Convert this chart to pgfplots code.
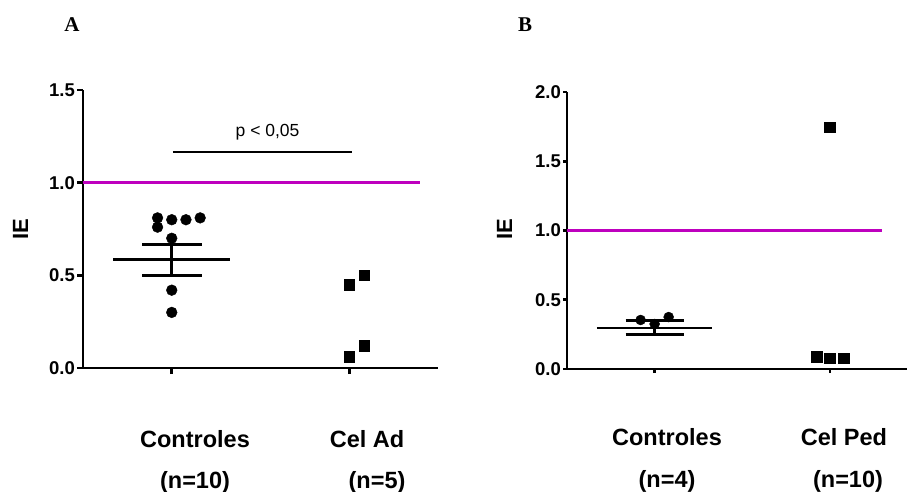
\documentclass[border=0pt]{standalone}
\usepackage{fontspec}
\setmainfont{Liberation Sans}
\newfontfamily\timesf{Liberation Serif}
\usepackage{pgfplots}
\pgfplotsset{compat=1.18}
\definecolor{mag}{RGB}{190,0,190}
\pgfplotsset{
  myax/.style={
    scale only axis,
    axis x line=bottom, axis y line=left,
    axis line style={-, line width=2.8bp, black},
    xtick={0,1}, xticklabels={},
    ytick distance=0.5,
    tick style={line width=2.8bp, black},
    major tick length=6bp, tick align=outside,
    clip=false,
    yticklabel style={font=\bfseries\fontsize{18.5bp}{20bp}\selectfont, inner xsep=2bp},
    /pgf/number format/.cd, fixed, fixed zerofill, precision=1, assume math mode=true,
  }
}
\begin{document}
\begin{tikzpicture}[x=1bp,y=1bp]
\useasboundingbox (0,0) rectangle (907,-492);
% Panel A
\begin{axis}[myax, at={(83bp,-368bp)}, anchor=south west,
  width=355bp, height=278bp, xmin=-0.5, xmax=1.5, ymin=0, ymax=1.5]
\addplot[mag, line width=2.8bp] coordinates {(-0.5,1) (1.4,1)};
\addplot[black, line width=2.8bp] coordinates {(0.006,1.166) (1.017,1.166)};
\node[font=\fontsize{17.5bp}{19bp}\selectfont] at (axis cs:0.54,1.27) {p < 0,05};
\addplot[black, line width=3bp] coordinates {(-0.33,0.583) (0.33,0.583)};
\addplot[black, line width=3bp] coordinates {(-0.165,0.664) (0.17,0.664)};
\addplot[black, line width=3bp] coordinates {(-0.165,0.497) (0.17,0.497)};
\addplot[black, line width=3bp] coordinates {(0,0.497) (0,0.664)};
\addplot[only marks, mark=*, mark size=5.4bp, black] coordinates {
(-0.08,0.81) (-0.08,0.76) (0,0.80) (0.08,0.80) (0.16,0.81) (0,0.70) (0,0.42) (0,0.30)};
\addplot[only marks, mark=square*, mark size=5.3bp, black] coordinates {
(1,0.448) (1.084,0.50) (1,0.06) (1.084,0.12)};
\end{axis}
% Panel B
\begin{axis}[myax, at={(567bp,-369bp)}, anchor=south west,
  width=340bp, height=277bp, xmin=-0.5, xmax=1.44, ymin=0, ymax=2.0,
  major tick length=4bp]
\addplot[mag, line width=2.8bp] coordinates {(-0.5,1) (1.3,1)};
\addplot[black, line width=2bp] coordinates {(-0.33,0.298) (0.33,0.298)};
\addplot[black, line width=2.8bp] coordinates {(-0.166,0.349) (0.166,0.349)};
\addplot[black, line width=2.8bp] coordinates {(-0.166,0.252) (0.166,0.252)};
\addplot[black, line width=2.8bp] coordinates {(0,0.252) (0,0.349)};
\addplot[only marks, mark=*, mark size=5bp, black] coordinates {
(-0.08,0.354) (0,0.325) (0.08,0.375)};
\addplot[only marks, mark=square*, mark size=5.3bp, black] coordinates {
(1,1.747) (0.926,0.089) (1,0.077) (1.08,0.077)};
\end{axis}
% Text
\tikzset{cat/.style={anchor=base, font=\bfseries\fontsize{23.5bp}{25bp}\selectfont, inner sep=0}}
\node[cat] at (195,-447) {Controles};
\node[cat] at (195,-488) {(n=10)};
\node[cat] at (367,-447) {Cel Ad};
\node[cat] at (377,-488) {(n=5)};
\node[cat] at (667,-445) {Controles};
\node[cat] at (667,-487) {(n=4)};
\node[cat] at (844,-445) {Cel Ped};
\node[cat] at (848,-487) {(n=10)};
\node[anchor=base, rotate=90, inner sep=0, font=\bfseries\fontsize{22bp}{24bp}\selectfont] at (28,-229) {IE};
\node[anchor=base, rotate=90, inner sep=0, font=\bfseries\fontsize{22bp}{24bp}\selectfont] at (512,-229) {IE};
\node[anchor=base, inner sep=0, font=\timesf\bfseries\fontsize{21bp}{23bp}\selectfont] at (72,-32) {A};
\node[anchor=base, inner sep=0, font=\timesf\bfseries\fontsize{21bp}{23bp}\selectfont] at (525,-32) {B};
\end{tikzpicture}
\end{document}
